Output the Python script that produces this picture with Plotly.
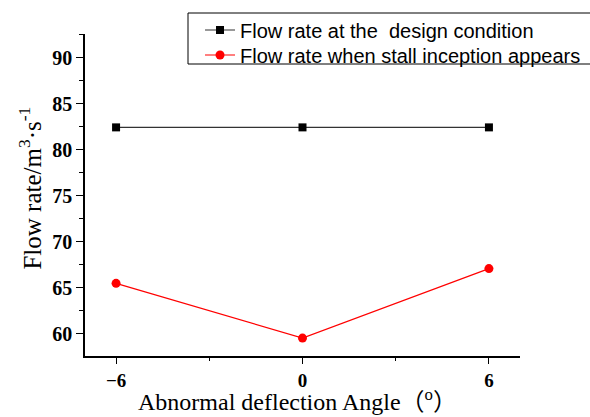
import plotly.graph_objects as go

# Abnormal deflection angle of the guide vane (degrees)
angles = [-6, 0, 6]
# Flow rate at the design condition (m^3/s)
design_flow = [82.45, 82.45, 82.45]
# Flow rate at which stall inception appears (m^3/s)
stall_flow = [65.5, 59.55, 67.1]

x_tickvals = [-6, 0, 6]
y_tickvals = [60, 65, 70, 75, 80, 85, 90]

x_title = "Abnormal deflection Angle（<sup>o</sup>）"
y_title = "Flow rate/m<sup>3</sup>·s<sup>-1</sup>"

legend_font = dict(family="Liberation Sans, Arial, sans-serif", size=20, color="black")
serif = "Liberation Serif, Times New Roman, Noto Sans CJK SC, serif"

fig = go.Figure()
fig.add_trace(go.Scatter(
    x=angles, y=design_flow, mode="lines+markers",
    name="Flow rate at the  design condition",
    line=dict(color="#333333", width=1.2),
    marker=dict(symbol="square", size=8, color="black"),
    legend="legend",
))
fig.add_trace(go.Scatter(
    x=angles, y=stall_flow, mode="lines+markers",
    name="Flow rate when stall inception appears",
    line=dict(color="red", width=1.2),
    marker=dict(symbol="circle", size=9, color="red"),
    legend="legend2",
))

# frame around the two legend rows (runs off the right edge of the page)
fig.add_shape(type="rect", xref="paper", yref="paper",
              x0=0.2368, x1=1.25, y0=0.9068, y1=1.0652,
              line=dict(color="black", width=1), fillcolor="rgba(0,0,0,0)")

# axis titles
fig.add_annotation(text=x_title, xref="paper", yref="paper",
                   x=0.488, y=-0.138, xanchor="center", yanchor="middle",
                   showarrow=False, font=dict(family=serif, size=24, color="black"))
fig.add_annotation(text=y_title, xref="paper", yref="paper",
                   x=0, xshift=-55, y=0.52, xanchor="center", yanchor="middle",
                   textangle=-90, showarrow=False,
                   font=dict(family=serif, size=25, color="black"))

fig.update_layout(
    width=590, height=417,
    margin=dict(l=85, r=70, t=34, b=61, autoexpand=False),
    paper_bgcolor="white", plot_bgcolor="white",
    showlegend=True,
    legend=dict(x=0.2644, y=1.0124, xanchor="left", yanchor="middle",
                bgcolor="rgba(0,0,0,0)", borderwidth=0, font=legend_font),
    legend2=dict(x=0.2644, y=0.9348, xanchor="left", yanchor="middle",
                 bgcolor="rgba(0,0,0,0)", borderwidth=0, font=legend_font),
    xaxis=dict(
        range=[-7, 7], tickvals=x_tickvals,
        showgrid=False, zeroline=False,
        showline=True, linecolor="black", linewidth=1.5,
        ticks="outside", ticklen=6, tickwidth=1.2, tickcolor="black",
        minor=dict(dtick=3, tick0=-6, ticks="outside", ticklen=3, tickwidth=1.2, tickcolor="black"),
        tickfont=dict(family="Liberation Serif, Times New Roman, serif", size=19, color="black", weight="bold"),
    ),
    yaxis=dict(
        range=[57.6, 92.6], tickvals=y_tickvals,
        showgrid=False, zeroline=False,
        showline=True, linecolor="black", linewidth=1.5,
        ticks="outside", ticklen=7, tickwidth=1.2, tickcolor="black",
        minor=dict(dtick=2.5, tick0=57.5, ticks="outside", ticklen=4, tickwidth=1.2, tickcolor="black"),
        tickfont=dict(family="Liberation Serif, Times New Roman, serif", size=20, color="black", weight="bold"),
    ),
)

fig.write_html("out.html")
